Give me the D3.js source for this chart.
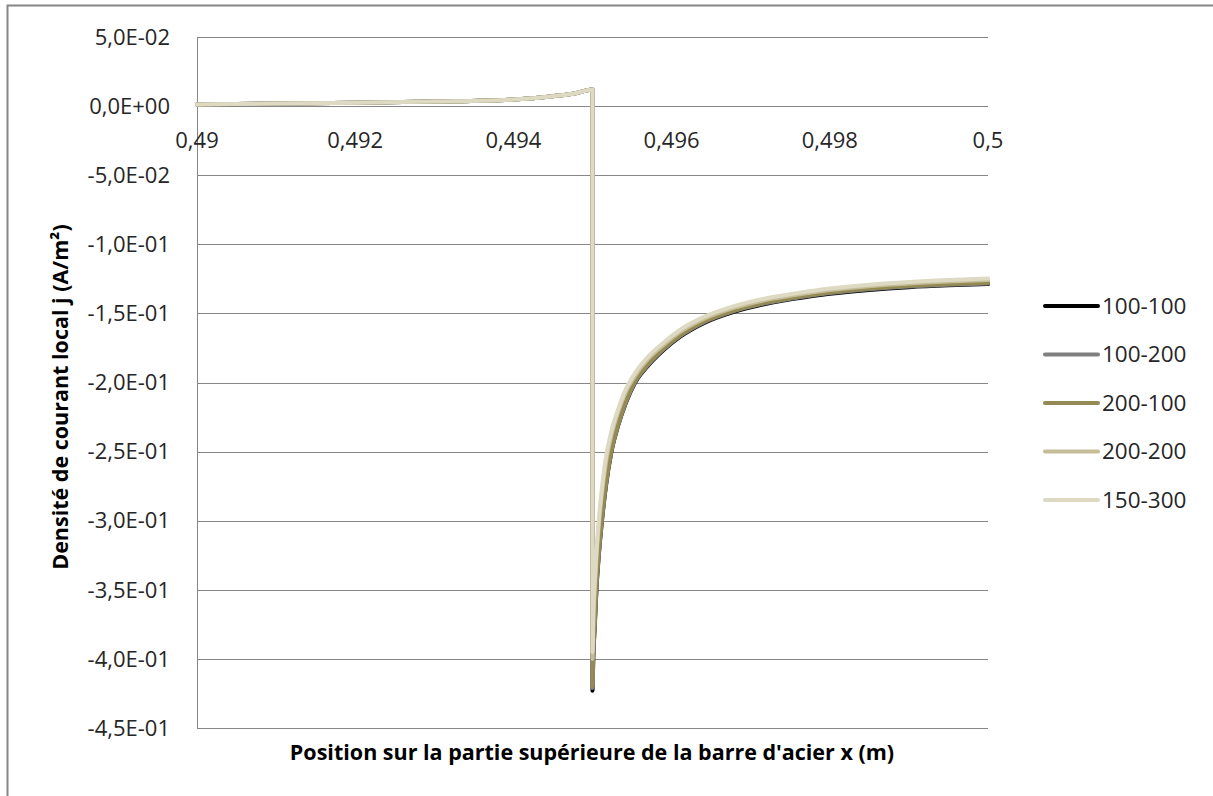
<!DOCTYPE html>
<html>
<head>
<meta charset="utf-8">
<script src="https://cdn.jsdelivr.net/npm/d3@7"></script>
<style>
  body { margin: 0; background: #fff; }
  text { font-family: "Open Sans", "Noto Sans", sans-serif; fill: #262626; }
</style>
</head>
<body>
<svg id="chart" width="1213" height="796"></svg>
<script>
//*************************1. Data

const xValues = [0.49, 0.491, 0.492, 0.493, 0.494, 0.4945, 0.4948, 0.4949, 0.495, 0.495,
  0.49501, 0.49503, 0.49505, 0.49508, 0.49512, 0.49517, 0.49524, 0.49532, 0.49542, 0.49554,
  0.4957, 0.4959, 0.4961, 0.4964, 0.4968, 0.4972, 0.4976, 0.498, 0.4985, 0.499, 0.4995, 0.5]

const s100_100 = [0.0012, 0.0018, 0.0024, 0.0033, 0.0048, 0.0072, 0.0095, 0.011, 0.012, -0.423,
  -0.400, -0.375, -0.350, -0.325, -0.300, -0.275, -0.250, -0.232, -0.215, -0.200,
  -0.1880, -0.1765, -0.1672, -0.1572, -0.1487, -0.1430, -0.1390, -0.1358, -0.1330, -0.1310, -0.1297, -0.1288]

const s100_200 = [0.0012, 0.0018, 0.0024, 0.0033, 0.0048, 0.0072, 0.0095, 0.011, 0.012, -0.421,
  -0.398, -0.374, -0.349, -0.324, -0.299, -0.274, -0.2495, -0.2315, -0.2145, -0.1995,
  -0.1875, -0.1760, -0.1667, -0.1567, -0.1482, -0.1425, -0.1385, -0.1353, -0.1325, -0.1305, -0.1292, -0.1283]

const s200_100 = [0.0012, 0.0018, 0.0024, 0.0033, 0.0048, 0.0072, 0.0095, 0.011, 0.012, -0.420,
  -0.396, -0.372, -0.347, -0.322, -0.298, -0.273, -0.249, -0.231, -0.214, -0.199,
  -0.1870, -0.1755, -0.1662, -0.1562, -0.1477, -0.1420, -0.1380, -0.1348, -0.1320, -0.1300, -0.1287, -0.1278]

const s200_200 = [0.0012, 0.0018, 0.0024, 0.0033, 0.0048, 0.0072, 0.0095, 0.011, 0.012, -0.400,
  -0.374, -0.348, -0.327, -0.303, -0.280, -0.258, -0.238, -0.222, -0.207, -0.195,
  -0.1832, -0.1727, -0.1638, -0.1542, -0.1458, -0.1402, -0.1363, -0.1331, -0.1303, -0.1283, -0.1269, -0.1259]

const s150_300 = [0.0012, 0.0018, 0.0024, 0.0033, 0.0048, 0.0072, 0.0095, 0.011, 0.012, -0.395,
  -0.368, -0.342, -0.322, -0.299, -0.276, -0.254, -0.235, -0.220, -0.205, -0.193,
  -0.1815, -0.1710, -0.1622, -0.1527, -0.1445, -0.1390, -0.1352, -0.1320, -0.1292, -0.1272, -0.1258, -0.1248]

const seriesNames = ["100-100", "100-200", "200-100", "200-200", "150-300"]
const seriesValues = [s100_100, s100_200, s200_100, s200_200, s150_300]
const seriesColors = ["#000000", "#7f7f7f", "#948a54", "#c4bd97", "#ddd9c3"]

const xTicks = [0.49, 0.492, 0.494, 0.496, 0.498, 0.5]
const yTicks = [0.05, 0, -0.05, -0.1, -0.15, -0.2, -0.25, -0.3, -0.35, -0.4, -0.45]
const yTickLabels = ["5,0E-02", "0,0E+00", "-5,0E-02", "-1,0E-01", "-1,5E-01", "-2,0E-01",
  "-2,5E-01", "-3,0E-01", "-3,5E-01", "-4,0E-01", "-4,5E-01"]

//*************************2. Canvas

const svg = d3.select("#chart")

// outer chart border (right / bottom edges fall outside the picture)
svg.append("rect")
  .attr("x", 7.5).attr("y", 5.5)
  .attr("width", 1300).attr("height", 900)
  .attr("fill", "none")
  .attr("stroke", "#868686")
  .attr("stroke-width", 2)

const plotLeft = 197, plotRight = 988, plotTop = 37, plotBottom = 728

//*************************3. Scales

const xScale = d3.scaleLinear().domain([0.49, 0.5]).range([plotLeft, plotRight])
const yScale = d3.scaleLinear().domain([0.05, -0.45]).range([plotTop, plotBottom])

//*************************4. Grid + axes

const grid = svg.append("g")
grid.selectAll("line")
  .data(yTicks)
  .join("line")
  .attr("x1", plotLeft).attr("x2", plotRight)
  .attr("y1", d => Math.round(yScale(d)) + 0.5)
  .attr("y2", d => Math.round(yScale(d)) + 0.5)
  .attr("stroke", "#868686")
  .attr("stroke-width", 1)

// vertical axis line
svg.append("line")
  .attr("x1", plotLeft + 0.5).attr("x2", plotLeft + 0.5)
  .attr("y1", plotTop).attr("y2", plotBottom)
  .attr("stroke", "#868686")

svg.append("g")
  .selectAll("text")
  .data(yTicks)
  .join("text")
  .attr("x", 170)
  .attr("y", d => yScale(d))
  .attr("dy", "0.35em")
  .attr("text-anchor", "end")
  .attr("font-size", 22)
  .text((d, i) => yTickLabels[i])

const fmtX = d => String(+d.toFixed(3)).replace(".", ",")
svg.append("g")
  .selectAll("text")
  .data(xTicks)
  .join("text")
  .attr("x", d => xScale(d))
  .attr("y", yScale(0) + 42)
  .attr("text-anchor", "middle")
  .attr("font-size", 22)
  .text(fmtX)

//*************************5. Lines

const line = d3.line()
  .x((d, i) => xScale(xValues[i]))
  .y(d => yScale(d))
  .curve(d3.curveMonotoneX)

svg.append("g")
  .selectAll("path")
  .data(seriesValues)
  .join("path")
  .attr("d", d => line(d))
  .attr("fill", "none")
  .attr("stroke", (d, i) => seriesColors[i])
  .attr("stroke-width", 4)
  .attr("stroke-linejoin", "round")
  .attr("stroke-linecap", "round")

//*************************6. Titles

svg.append("text")
  .attr("x", 592)
  .attr("y", 760)
  .attr("text-anchor", "middle")
  .attr("font-size", 21.5)
  .attr("font-weight", "bold")
  .style("fill", "#000")
  .text("Position sur la partie supérieure de la barre d'acier x (m)")

svg.append("text")
  .attr("transform", "translate(68,397) rotate(-90)")
  .attr("text-anchor", "middle")
  .attr("font-size", 21.5)
  .attr("font-weight", "bold")
  .style("fill", "#000")
  .text("Densité de courant local j (A/m²)")

//*************************7. Legend

const legend = svg.append("g")
  .selectAll("g")
  .data(seriesNames)
  .join("g")
  .attr("transform", (d, i) => "translate(1043," + (306 + i * 48.5) + ")")

legend.append("line")
  .attr("x1", 2).attr("x2", 55)
  .attr("stroke", (d, i) => seriesColors[i])
  .attr("stroke-width", 4)
  .attr("stroke-linecap", "round")

legend.append("text")
  .attr("x", 59)
  .attr("dy", "0.35em")
  .attr("font-size", 22.5)
  .text(d => d)
</script>
</body>
</html>
